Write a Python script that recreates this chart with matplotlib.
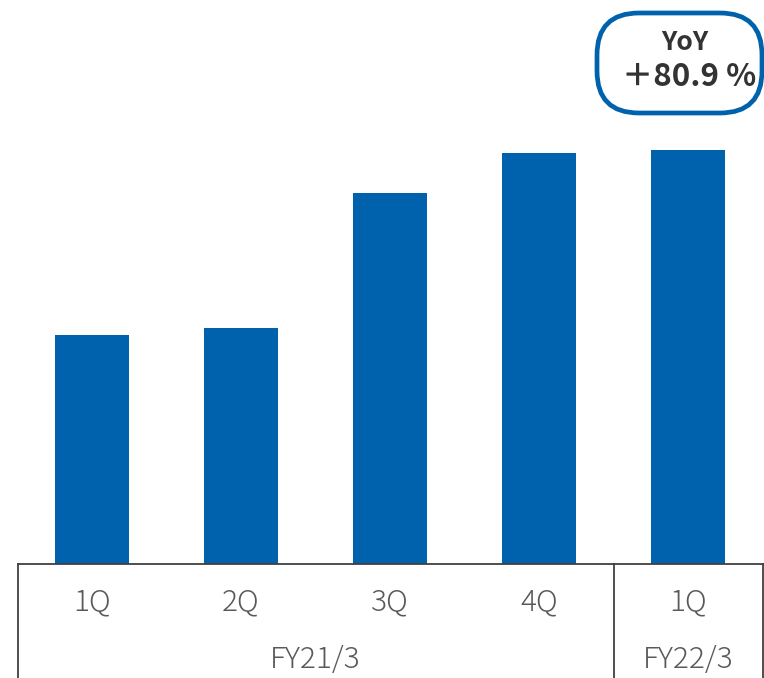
import matplotlib
matplotlib.use("Agg")
import matplotlib.pyplot as plt
from matplotlib.patches import FancyBboxPatch
from matplotlib.lines import Line2D

quarters = ["1Q", "2Q", "3Q", "4Q", "1Q"]
values = [229, 236, 371, 411, 414]
fiscal_years = ["FY21/3", "FY22/3"]
yoy_text = ["YoY", "＋80.9 %"]

W, H = 764, 678
fig = plt.figure(figsize=(W / 100, H / 100), dpi=100)
fig.patch.set_facecolor("white")

def fx(px):
    return px / W

def fy(py):
    return 1 - py / H

ax = fig.add_axes([fx(17.5), fy(564), fx(762.5) - fx(17.5), fy(0) - fy(564)])
ax.bar(range(len(values)), values, width=0.5, color="#0062AC")
ax.set_xlim(-0.5, 4.5)
ax.set_ylim(0, 564)
ax.axis("off")

line_kw = dict(color="#404040", linewidth=1.3, transform=fig.transFigure)
fig.add_artist(Line2D([fx(18), fx(763)], [fy(564), fy(564)], **line_kw))
fig.add_artist(Line2D([fx(18), fx(18)], [fy(564), fy(678)], **line_kw))
fig.add_artist(Line2D([fx(614), fx(614)], [fy(564), fy(678)], **line_kw))
fig.add_artist(Line2D([fx(763), fx(763)], [fy(564), fy(678)], **line_kw))

fam = ["Noto Sans CJK JP", "DejaVu Sans"]
txt_color = "#595959"
for i, q in enumerate(quarters):
    ax.text(i, -38, q, ha="center", va="center", fontsize=21.5, color=txt_color,
            family=fam, weight="light", clip_on=False)
ax.text(1.5, -96, fiscal_years[0], ha="center", va="center", fontsize=21.5,
        color=txt_color, family=fam, weight="light", clip_on=False)
ax.text(4, -96, fiscal_years[1], ha="center", va="center", fontsize=21.5,
        color=txt_color, family=fam, weight="light", clip_on=False)

box = FancyBboxPatch((fx(597), fy(113)), fx(762) - fx(597), fy(13) - fy(113),
                     boxstyle="round,pad=0,rounding_size=0.055",
                     transform=fig.transFigure, facecolor="white",
                     edgecolor="#0062AC", linewidth=3.4, mutation_aspect=W / H)
fig.add_artist(box)
fig.text(fx(685), fy(43), yoy_text[0], ha="center", va="center", fontsize=19,
         weight="bold", color="#333333", family=fam)
fig.text(fx(689), fy(77), yoy_text[1], ha="center", va="center", fontsize=22.5,
         weight="bold", color="#333333", family=fam)

fig.savefig("out.png", dpi=100, facecolor="white")
